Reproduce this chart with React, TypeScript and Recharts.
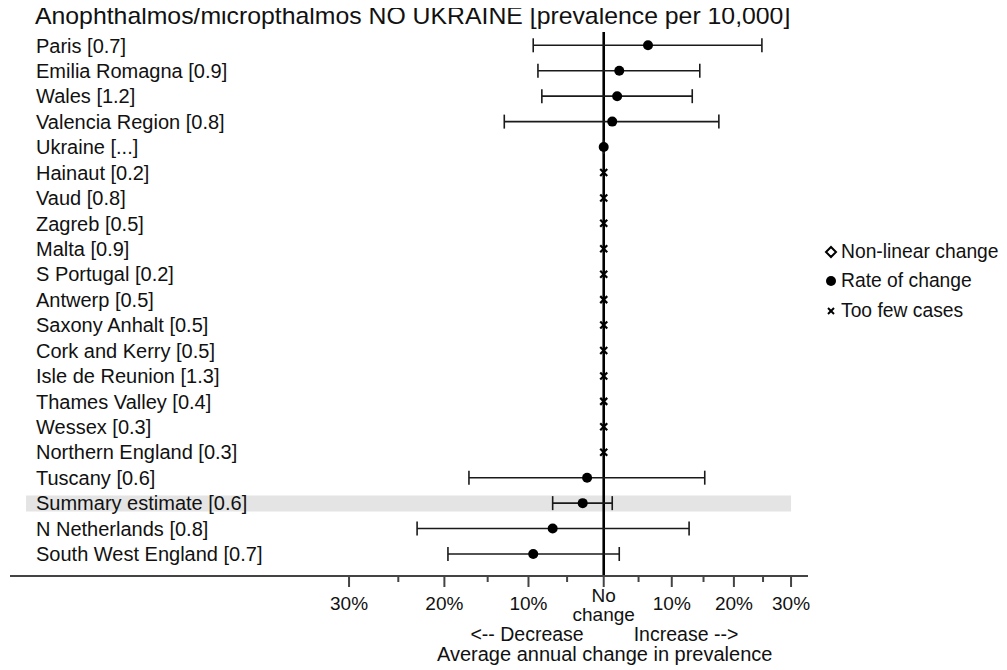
import React from 'react';
import {
  ScatterChart,
  Scatter,
  XAxis,
  YAxis,
  ErrorBar,
  ReferenceLine,
  ReferenceArea,
  Legend,
} from 'recharts';

const TITLE = 'Anophthalmos/micropthalmos NO UKRAINE [prevalence per 10,000]';

const regions = [
  'Paris [0.7]',
  'Emilia Romagna [0.9]',
  'Wales [1.2]',
  'Valencia Region [0.8]',
  'Ukraine [...]',
  'Hainaut [0.2]',
  'Vaud [0.8]',
  'Zagreb [0.5]',
  'Malta [0.9]',
  'S Portugal [0.2]',
  'Antwerp [0.5]',
  'Saxony Anhalt [0.5]',
  'Cork and Kerry [0.5]',
  'Isle de Reunion [1.3]',
  'Thames Valley [0.4]',
  'Wessex [0.3]',
  'Northern England [0.3]',
  'Tuscany [0.6]',
  'Summary estimate [0.6]',
  'N Netherlands [0.8]',
  'South West England [0.7]',
];

// 'rate' = Rate of change, 'few' = Too few cases
const status = [
  'rate', 'rate', 'rate', 'rate', 'rate',
  'few', 'few', 'few', 'few', 'few', 'few', 'few', 'few', 'few', 'few', 'few', 'few',
  'rate', 'rate', 'rate', 'rate',
];

// average annual change, %
const rate = [6.4, 2.2, 1.9, 1.2, 0, null, null, null, null, null, null, null, null, null, null, null, null, -2.3, -2.9, -6.9, -9.4];
const lower = [-9.4, -8.8, -8.3, -13.0, 0, null, null, null, null, null, null, null, null, null, null, null, null, -17.2, -6.9, -23.0, -19.6];
const upper = [24.8, 14.4, 13.2, 17.5, 0, null, null, null, null, null, null, null, null, null, null, null, null, 15.2, 1.2, 12.7, 2.2];

const SUMMARY_INDEX = 18;

const tickPct = [-30, -25, -20, -15, -10, -5, 0, 5, 10, 15, 20, 25, 30];
const legendNames = ['Non-linear change', 'Rate of change', 'Too few cases'];

const FONT = '"Liberation Sans", Arial, Helvetica, sans-serif';

const toLog = (p: number) => Math.log(1 + p / 100);

const rateData = regions
  .map((name, i) => ({ name, i }))
  .filter((d) => status[d.i] === 'rate')
  .map((d) => {
    const lx = toLog(rate[d.i] as number);
    return {
      name: d.name,
      row: d.i,
      lx,
      err: [lx - toLog(lower[d.i] as number), toLog(upper[d.i] as number) - lx],
    };
  });

const fewData = regions
  .map((name, i) => ({ name, i }))
  .filter((d) => status[d.i] === 'few')
  .map((d) => ({ name: d.name, row: d.i, lx: 0 }));

const nonLinearData: { name: string; row: number; lx: number }[] = [];

const xTicks = tickPct.map(toLog);
const yTicks = regions.map((_, i) => i);

const XTick = (props: any) => {
  const { x, y, payload } = props;
  const pct = Math.round((Math.exp(payload.value) - 1) * 100);
  const major = pct % 10 === 0;
  const len = major ? 11 : 6;
  return (
    <g>
      <line x1={x} x2={x} y1={y} y2={y + len} stroke="#444" strokeWidth={2} />
      {major && pct !== 0 && (
        <text x={x} y={y + 34} textAnchor="middle" fontSize={19} fill="#111" fontFamily={FONT}>
          {`${Math.abs(pct)}%`}
        </text>
      )}
      {pct === 0 && (
        <g fontFamily={FONT} fill="#111" fontSize={19}>
          <text x={x} y={y + 26} textAnchor="middle">No</text>
          <text x={x} y={y + 45} textAnchor="middle">change</text>
          <text x={x - 20} y={y + 65} textAnchor="end" fontSize={19.5}>{'<-- Decrease'}</text>
          <text x={x + 30} y={y + 65} textAnchor="start" fontSize={19.5}>{'Increase -->'}</text>
          <text x={x + 1} y={y + 85} textAnchor="middle" fontSize={20}>Average annual change in prevalence</text>
        </g>
      )}
    </g>
  );
};

const YTick = (props: any) => {
  const { y, payload } = props;
  return (
    <text x={28} y={y} dy="0.36em" textAnchor="start" fontSize={20} fill="#111" fontFamily={FONT}>
      {regions[payload.value]}
    </text>
  );
};

const Dot = (props: any) => <circle cx={props.cx} cy={props.cy} r={5} fill="#000" />;
const Cross = (props: any) => {
  const { cx, cy } = props;
  const s = 3.5;
  return (
    <g stroke="#000" strokeWidth={2.2}>
      <line x1={cx - s} y1={cy - s} x2={cx + s} y2={cy + s} />
      <line x1={cx - s} y1={cy + s} x2={cx + s} y2={cy - s} />
    </g>
  );
};
const Diamond = (props: any) => {
  const { cx, cy } = props;
  return <polygon points={`${cx},${cy - 5} ${cx + 5},${cy} ${cx},${cy + 5} ${cx - 5},${cy}`} fill="#fff" stroke="#000" strokeWidth={2} />;
};

const legendIcon = (name: string) => {
  if (name === legendNames[0]) return <polygon points="7,2 12,7 7,12 2,7" fill="#fff" stroke="#000" strokeWidth={2} />;
  if (name === legendNames[1]) return <circle cx={7} cy={7} r={5} fill="#000" />;
  return (
    <g stroke="#000" strokeWidth={2}>
      <line x1={4} y1={4} x2={10} y2={10} />
      <line x1={4} y1={10} x2={10} y2={4} />
    </g>
  );
};

const LegendContent = () => (
  <div style={{ fontFamily: FONT, fontSize: 19.3, color: '#111' }}>
    {legendNames.map((n) => (
      <div key={n} style={{ display: 'flex', alignItems: 'center', height: 29.5, whiteSpace: 'nowrap' }}>
        <svg width={16} height={14} style={{ display: 'block', flexShrink: 0 }}>
          {legendIcon(n)}
        </svg>
        <span style={{ marginLeft: 1 }}>{n}</span>
      </div>
    ))}
  </div>
);

export default function App() {
  return (
    <div style={{ position: 'relative', width: 999, height: 662 }}>
      <ScatterChart width={999} height={662} margin={{ top: 24, right: 199, bottom: 0, left: 1 }}>
        <ReferenceArea
          x1={-0.809}
          x2={toLog(30)}
          y1={SUMMARY_INDEX - 0.3}
          y2={SUMMARY_INDEX + 0.33}
          fill="#e4e4e4"
          fillOpacity={1}
          stroke="none"
          ifOverflow="hidden"
        />
        <XAxis
          type="number"
          dataKey="lx"
          domain={[-0.8315, 0.2861]}
          allowDataOverflow
          ticks={xTicks}
          interval={0}
          tick={<XTick />}
          tickLine={false}
          tickSize={0}
          tickMargin={0}
          axisLine={{ stroke: '#444', strokeWidth: 2.2 }}
          height={94}
        />
        <YAxis
          type="number"
          dataKey="row"
          domain={[-0.523, 20.865]}
          allowDataOverflow
          reversed
          ticks={yTicks}
          interval={0}
          width={1}
          axisLine={false}
          tickLine={false}
          tick={<YTick />}
        />
        <ReferenceLine x={0} stroke="#000" strokeWidth={2.6} />
        <Scatter name={legendNames[0]} data={nonLinearData} shape={<Diamond />} isAnimationActive={false} />
        <Scatter name={legendNames[1]} data={rateData} shape={<Dot />} isAnimationActive={false}>
          <ErrorBar dataKey="err" direction="x" width={7} stroke="#1a1a1a" strokeWidth={1.6} />
        </Scatter>
        <Scatter name={legendNames[2]} data={fewData} shape={<Cross />} isAnimationActive={false} />
        <Legend
          layout="vertical"
          align="center"
          verticalAlign="middle"
          wrapperStyle={{ left: 816, top: 229, width: 183 }}
          content={<LegendContent />}
        />
      </ScatterChart>
      <div
        style={{
          position: 'absolute',
          left: 27,
          top: -5,
          fontFamily: FONT,
          fontSize: 24.8,
          lineHeight: '25px',
          color: '#111',
          whiteSpace: 'nowrap',
        }}
      >
        {TITLE}
      </div>
    </div>
  );
}
